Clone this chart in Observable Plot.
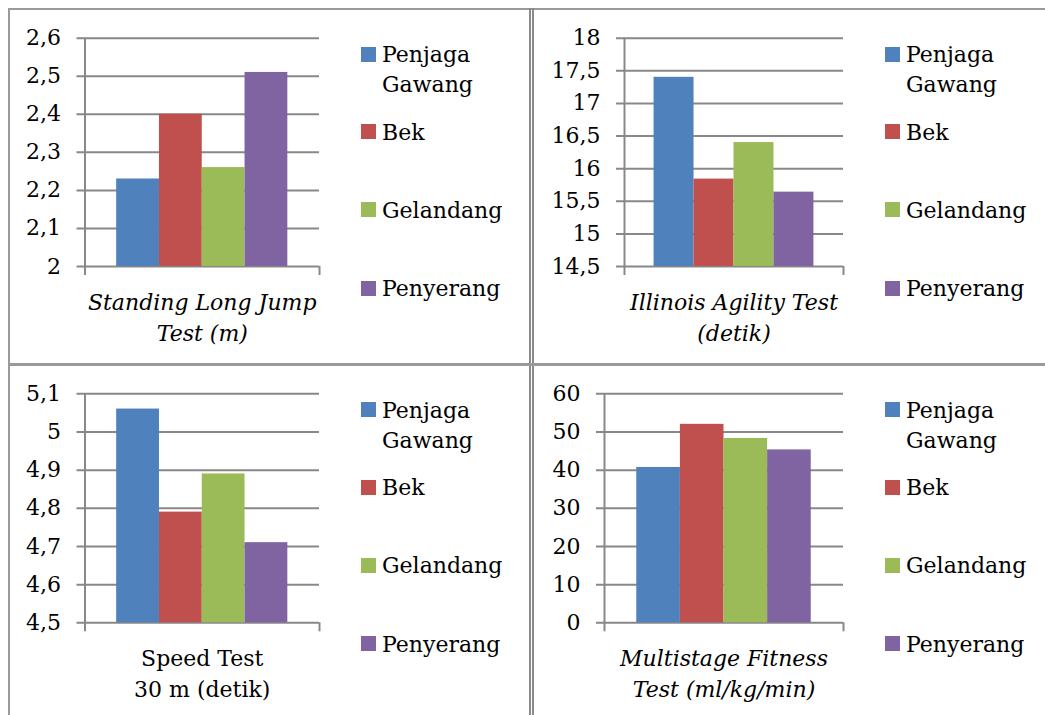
<!DOCTYPE html>
<html><head><meta charset="utf-8">
<script src="https://cdn.jsdelivr.net/npm/d3@7"></script>
<script src="https://cdn.jsdelivr.net/npm/@observablehq/plot@0.6"></script>
<style>
body{margin:0;background:#fff;}
#root{position:relative;width:1045px;height:715px;overflow:hidden;font-family:"DejaVu Serif",serif;color:#000;background:#fff;}
.ln{position:absolute;}
#root svg{position:absolute;}
.sw{position:absolute;width:15px;height:15px;}
.lt{position:absolute;font-size:22px;line-height:30px;width:140px;}
</style></head><body><div id="root"></div>
<script>
// ---- data ----
const series = ["Penjaga Gawang", "Bek", "Gelandang", "Penyerang"];
const colors = ["#4F81BD", "#C0504D", "#9BBB59", "#8064A2"];

const jumpLabel = "Standing Long Jump\nTest (m)";
const jumpValues = [2.23, 2.40, 2.26, 2.51];
const jumpTicks = [2, 2.1, 2.2, 2.3, 2.4, 2.5, 2.6];

const agilityLabel = "Illinois Agility Test\n(detik)";
const agilityValues = [17.40, 15.84, 16.40, 15.64];
const agilityTicks = [14.5, 15, 15.5, 16, 16.5, 17, 17.5, 18];

const speedLabel = "Speed Test\n30 m (detik)";
const speedValues = [5.06, 4.79, 4.89, 4.71];
const speedTicks = [4.5, 4.6, 4.7, 4.8, 4.9, 5, 5.1];

const fitnessLabel = "Multistage Fitness\nTest (ml/kg/min)";
const fitnessValues = [40.7, 52.0, 48.3, 45.3];
const fitnessTicks = [0, 10, 20, 30, 40, 50, 60];

// ---- layout ----
const root = document.getElementById("root");
const FONT = '"DejaVu Serif", serif';
const GRID = "#888888";
const PAD = 0.74;

function addLine(l, t, w, h, bg) {
  const d = document.createElement("div");
  d.className = "ln";
  Object.assign(d.style, {left: l + "px", top: t + "px", width: w + "px", height: h + "px", background: bg});
  root.appendChild(d);
}
// table borders
addLine(8, 8, 1040, 2, "#9a9a9a");
addLine(8, 8, 2, 710, "#9a9a9a");
addLine(529, 8, 1.5, 710, "#8a8a8a");
addLine(532, 8, 1.5, 710, "#8a8a8a");
addLine(8, 362.5, 1040, 3, "#9a9a9a");

function panel(o) {
  const data = series.map((s, i) => ({s, i, v: o.values[i]}));
  const ymin = o.ticks[0], ymax = o.ticks[o.ticks.length - 1];
  const n = series.length;
  const chart = Plot.plot({
    width: o.w, height: o.h,
    marginLeft: o.x0 - o.left, marginRight: o.left + o.w - o.x1,
    marginTop: o.y0 - o.top, marginBottom: o.top + o.h - o.y1,
    x: {domain: [-PAD, n + PAD], axis: null},
    y: {domain: [ymin, ymax], axis: null},
    style: {fontFamily: FONT, fontSize: "22px", color: "#000", background: "transparent", overflow: "visible"},
    marks: [
      Plot.ruleY(o.ticks, {stroke: GRID, strokeWidth: 2, insetLeft: -8}),
      Plot.rectY(data, {x1: "i", x2: d => d.i + 1, y1: ymin, y2: "v", fill: d => colors[d.i]}),
      Plot.ruleX([-PAD], {stroke: GRID, strokeWidth: 2, insetBottom: -9}),
      Plot.ruleX([n + PAD], {stroke: GRID, strokeWidth: 2, insetTop: o.y1 - o.y0, insetBottom: -9}),
      Plot.axisY(o.ticks, {tickSize: 0, tickPadding: 24, tickFormat: d => String(d).replace(".", ","), fontSize: 22, fill: "#000", label: null}),
      Plot.text([o.label], {x: n / 2, frameAnchor: "bottom", lineAnchor: "top", dy: 21, lineHeight: 1.42,
        fontSize: 22, fontStyle: o.italic ? "italic" : "normal", fill: "#000", text: d => d})
    ]
  });
  chart.style.left = o.left + "px";
  chart.style.top = o.top + "px";
  root.appendChild(chart);

  // legend
  series.forEach((s, i) => {
    const c = o.legY[i];
    const sw = document.createElement("div");
    sw.className = "sw";
    Object.assign(sw.style, {left: o.legX + "px", top: (c - 7.5) + "px", background: colors[i]});
    root.appendChild(sw);
    const t = document.createElement("div");
    t.className = "lt";
    t.textContent = s;
    Object.assign(t.style, {left: (o.legX + 21) + "px", top: (c - 14) + "px"});
    root.appendChild(t);
  });
}

const legTop = [54, 131.5, 209.5, 288];
const legBot = legTop.map(v => v + 355.5);

panel({left: 10, top: 10, w: 515, h: 350, x0: 84.5, x1: 319, y0: 37.7, y1: 266,
  values: jumpValues, ticks: jumpTicks, label: jumpLabel, italic: true, legX: 361, legY: legTop});
panel({left: 535, top: 10, w: 505, h: 350, x0: 624, x1: 843, y0: 37.7, y1: 266,
  values: agilityValues, ticks: agilityTicks, label: agilityLabel, italic: true, legX: 885, legY: legTop});
panel({left: 10, top: 367, w: 515, h: 345, x0: 84.5, x1: 319, y0: 393.3, y1: 622.3,
  values: speedValues, ticks: speedTicks, label: speedLabel, italic: false, legX: 361, legY: legBot});
panel({left: 535, top: 367, w: 505, h: 345, x0: 604, x1: 843, y0: 393.3, y1: 622.3,
  values: fitnessValues, ticks: fitnessTicks, label: fitnessLabel, italic: true, legX: 885, legY: legBot});
</script>
</body></html>
